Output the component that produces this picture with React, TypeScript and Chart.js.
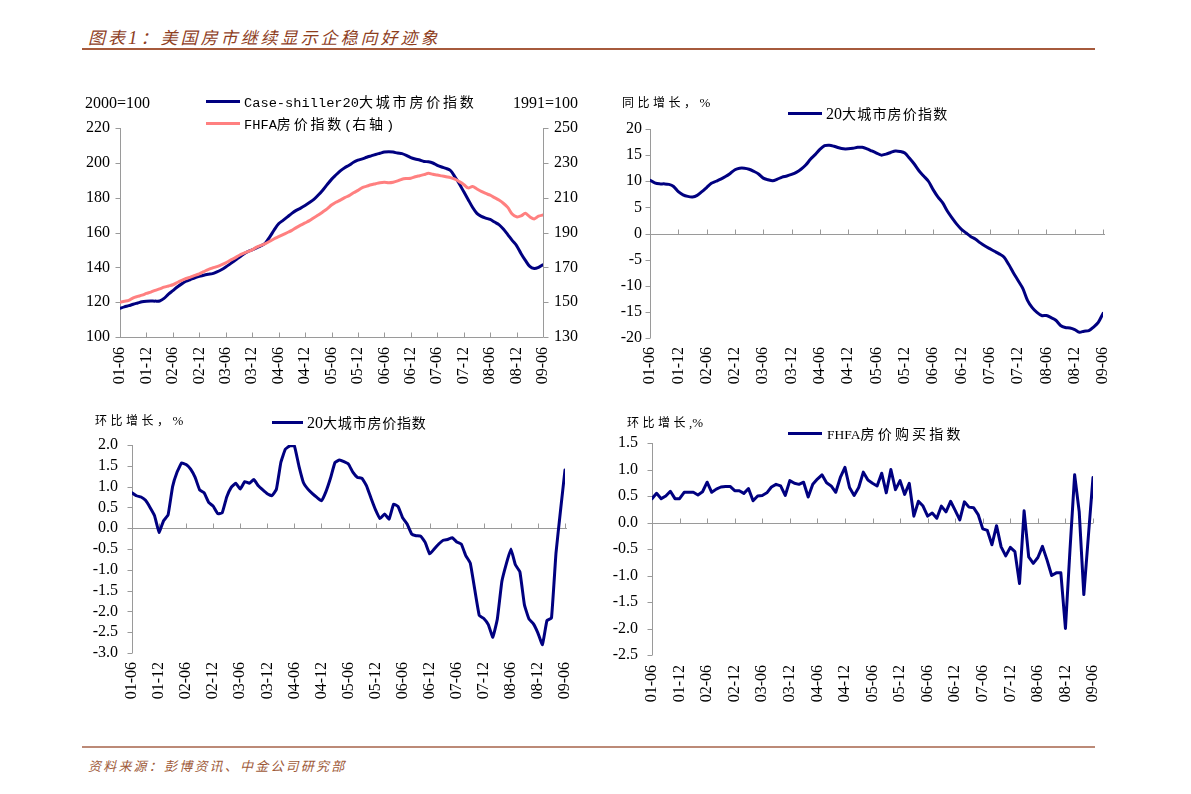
import React, { useEffect, useRef } from 'react';
import { Chart, registerables } from 'chart.js';

Chart.register(...registerables);

// ---------------- data ----------------
const tickLabels = ['01-06', '01-12', '02-06', '02-12', '03-06', '03-12', '04-06', '04-12', '05-06', '05-12', '06-06', '06-12', '07-06', '07-12', '08-06', '08-12', '09-06'];

// Case-Shiller 20-city index, 2000=100 (monthly, 2001-06 .. 2009-06)
const caseShiller20 = [
  116.5, 117.3, 118.0, 118.8, 119.5, 120.2, 120.5, 120.6, 120.6, 120.7,
  122.2, 124.6, 126.6, 128.7, 130.5, 132.0, 133.0, 134.0, 134.8, 135.5,
  136.0, 136.4, 137.4, 138.6, 140.2, 142.0, 143.8, 145.6, 147.5, 149.0,
  150.0, 151.2, 152.4, 154.0, 157.5, 161.5, 165.0, 167.0, 169.0, 171.0,
  172.7, 174.0, 175.5, 177.2, 179.0, 181.5, 184.3, 187.5, 190.5, 193.0,
  195.4, 197.2, 198.6, 200.3, 201.5, 202.3, 203.2, 204.0, 204.8, 205.5,
  206.2, 206.4, 206.2, 205.6, 205.3, 204.3, 203.0, 202.2, 201.6, 200.8,
  200.6, 199.9, 198.6, 197.6, 196.8, 195.6, 192.0, 188.0, 183.5, 179.0,
  174.5, 171.0, 169.3, 168.3, 167.5, 166.0, 164.5, 162.0, 158.8, 155.5,
  152.5, 148.0, 144.0, 140.5, 139.3, 140.0, 141.5,
];

// FHFA house price index, 1991=100 (right axis)
const fhfaIndex = [
  150.0, 150.5, 151.0, 152.5, 153.3, 154.0, 155.0, 155.8, 156.8, 157.6,
  158.6, 159.3, 160.0, 161.3, 162.5, 163.6, 164.4, 165.4, 166.3, 167.5,
  168.7, 169.6, 170.4, 171.4, 172.6, 174.0, 175.3, 176.8, 178.0, 179.0,
  180.0, 181.6, 182.6, 183.6, 185.0, 186.4, 187.6, 188.8, 190.0, 191.2,
  192.8, 194.2, 195.5, 196.8, 198.5, 200.0, 201.8, 203.6, 205.8, 207.4,
  208.6, 210.0, 211.2, 212.8, 214.2, 215.8, 216.6, 217.4, 218.0, 218.6,
  218.8, 218.6, 218.9, 219.6, 220.6, 221.0, 221.2, 222.0, 222.6, 223.2,
  224.0, 223.4, 223.0, 222.5, 222.0, 221.5, 220.6, 219.2, 217.6, 215.6,
  216.4, 215.0, 213.6, 212.4, 211.4, 210.0, 208.6, 206.8, 204.4, 200.6,
  199.0, 199.5, 201.0, 199.0, 197.8, 199.4, 200.0,
];

// Case-Shiller 20-city, year-on-year %
const cs20YoY = [
  10.2, 9.7, 9.5, 9.5, 9.4, 9.0, 8.0, 7.4, 7.1, 7.0,
  7.3, 8.0, 8.8, 9.6, 10.0, 10.4, 10.9, 11.5, 12.2, 12.5,
  12.5, 12.3, 11.9, 11.4, 10.6, 10.3, 10.1, 10.4, 10.8, 11.0,
  11.3, 11.7, 12.3, 13.1, 14.2, 15.1, 16.1, 16.8, 16.9, 16.7,
  16.4, 16.2, 16.2, 16.3, 16.5, 16.5, 16.2, 15.8, 15.4, 15.0,
  15.2, 15.5, 15.8, 15.7, 15.4, 14.4, 13.3, 12.0, 11.0, 10.0,
  8.4, 7.0, 5.9, 4.3, 3.0, 1.8, 0.8, 0.1, -0.6, -1.1,
  -1.8, -2.4, -2.9, -3.4, -3.9, -4.5, -5.9, -7.5, -9.0, -10.5,
  -12.8, -14.2, -15.1, -15.7, -15.7, -16.1, -16.6, -17.6, -18.0, -18.1,
  -18.4, -18.9, -18.7, -18.6, -17.9, -17.0, -15.3,
];

// Case-Shiller 20-city, month-on-month %
const cs20MoM = [
  0.85, 0.78, 0.75, 0.67, 0.50, 0.30, -0.10, 0.18, 0.32, 1.00,
  1.35, 1.57, 1.53, 1.42, 1.22, 0.92, 0.85, 0.62, 0.53, 0.35,
  0.37, 0.75, 0.98, 1.08, 0.94, 1.12, 1.08, 1.17, 1.02, 0.92,
  0.83, 0.78, 0.93, 1.58, 1.90, 1.98, 1.98, 1.50, 1.10, 0.94,
  0.83, 0.74, 0.66, 0.88, 1.20, 1.58, 1.64, 1.60, 1.54, 1.34,
  1.22, 1.20, 1.02, 0.72, 0.44, 0.23, 0.34, 0.22, 0.58, 0.52,
  0.25, 0.10, -0.14, -0.18, -0.19, -0.34, -0.62, -0.50, -0.38, -0.29,
  -0.27, -0.23, -0.33, -0.38, -0.66, -0.84, -1.48, -2.10, -2.17, -2.32,
  -2.62, -2.18, -1.28, -0.85, -0.50, -0.88, -1.05, -1.84, -2.18, -2.30,
  -2.52, -2.80, -2.22, -2.16, -0.60, 0.42, 1.40,
];

// FHFA purchase-only index, month-on-month %
const fhfaMoM = [
  0.45, 0.55, 0.45, 0.50, 0.59, 0.45, 0.45, 0.57, 0.57, 0.57,
  0.52, 0.58, 0.76, 0.57, 0.63, 0.67, 0.68, 0.68, 0.60, 0.60,
  0.55, 0.64, 0.41, 0.50, 0.51, 0.56, 0.67, 0.72, 0.69, 0.51,
  0.79, 0.74, 0.72, 0.76, 0.48, 0.72, 0.82, 0.90, 0.75, 0.69,
  0.57, 0.85, 1.04, 0.66, 0.51, 0.66, 0.95, 0.80, 0.74, 0.69,
  0.93, 0.56, 1.00, 0.62, 0.79, 0.53, 0.74, 0.12, 0.40, 0.31,
  0.12, 0.18, 0.08, 0.31, 0.20, 0.40, 0.23, 0.05, 0.39, 0.29,
  0.28, 0.15, -0.12, -0.15, -0.42, -0.06, -0.46, -0.63, -0.47, -0.55,
  -1.15, 0.22, -0.65, -0.77, -0.66, -0.45, -0.71, -1.00, -0.95, -0.95,
  -2.00, -0.50, 0.90, 0.20, -1.36, -0.25, 0.85,
];
const fhfaMoMLatest = 0.48; // latest revised reading for 09-06

// ---------------- styles ----------------
const NAVY = '#000080';
const PINK = '#FF8080';
const AXIS = '#9a9a9a';
const SERIF = "'Liberation Serif', 'Times New Roman', serif";
const CJK = "'Noto Sans CJK SC', 'Noto Sans CJK JP', sans-serif";
const MONO = "'Liberation Mono', 'DejaVu Sans Mono', monospace";
const tickFont = { family: SERIF, size: 16 };
const TOP_PAD = 26;

const excelAxes = {
  id: 'excelAxes',
  beforeDatasetsDraw(chart: any, _args: any, opts: any) {
    const { ctx, chartArea } = chart;
    const { left, right, top, bottom } = chartArea;
    const px = (v: number) => Math.round(v) + 0.5;
    ctx.save();
    ctx.strokeStyle = AXIS;
    ctx.lineWidth = 1;
    ctx.beginPath();
    for (const id of opts.yAxes) {
      const s = chart.scales[id];
      const isLeft = s.position === 'left';
      const ax = px(isLeft ? left : right);
      ctx.moveTo(ax, top);
      ctx.lineTo(ax, bottom);
      for (const t of s.ticks) {
        const y = px(s.getPixelForValue(t.value));
        ctx.moveTo(isLeft ? ax - 5 : ax + 5, y);
        ctx.lineTo(ax, y);
      }
    }
    const ys = chart.scales.y;
    const by = px(ys.getPixelForValue(opts.baseValue));
    ctx.moveTo(left, by);
    ctx.lineTo(right + (opts.extend || 0), by);
    const xs = chart.scales.x;
    for (const t of xs.ticks) {
      const x = px(xs.getPixelForValue(t.value));
      ctx.moveTo(x, by);
      ctx.lineTo(x, by - 5);
    }
    ctx.stroke();
    ctx.restore();
  },
};

function xScale(pad: number) {
  return {
    type: 'linear',
    min: 0,
    max: 96,
    grid: { display: false, drawTicks: false },
    border: { display: false },
    ticks: {
      stepSize: 6,
      maxTicksLimit: 30,
      autoSkip: false,
      minRotation: 90,
      maxRotation: 90,
      padding: pad,
      font: tickFont,
      color: '#000',
      callback: (v: number) => tickLabels[Math.round(v / 6)] ?? '',
    },
    afterFit: (s: any) => {
      s.height = 60;
    },
  };
}

function yScale(position: string, min: number, max: number, step: number, pad: number, width: number, decimals: number) {
  return {
    type: 'linear',
    position,
    min,
    max,
    grid: { display: false, drawTicks: false },
    border: { display: false },
    ticks: {
      stepSize: step,
      maxTicksLimit: 30,
      autoSkip: false,
      padding: pad,
      font: tickFont,
      color: '#000',
      callback: (v: number) => (Math.abs(v) < 1e-9 ? 0 : v).toFixed(decimals),
    },
    afterFit: (s: any) => {
      s.width = width;
    },
  };
}

const series = (vals: number[]) => vals.map((y, i) => ({ x: i, y }));

const lineDs = (data: any[], color: string, tension: number, extra: any = {}) => ({
  data,
  borderColor: color,
  backgroundColor: color,
  borderWidth: 3,
  pointRadius: 0,
  tension,
  fill: false,
  borderJoinStyle: 'round',
  borderCapStyle: 'round',
  ...extra,
});

const baseOptions = (scales: any, axesOpts: any, padRight: number) => ({
  animation: false,
  responsive: false,
  maintainAspectRatio: false,
  devicePixelRatio: 1,
  events: [],
  layout: { padding: { top: TOP_PAD, left: 0, right: padRight, bottom: 0 } },
  plugins: { legend: { display: false }, tooltip: { enabled: false }, excelAxes: axesOpts },
  scales,
});

const panel1 = () => ({
  type: 'line',
  data: {
    datasets: [
      lineDs(series(caseShiller20), NAVY, 0.3, { yAxisID: 'y', order: 1 }),
      lineDs(series(fhfaIndex), PINK, 0.3, { yAxisID: 'y1', order: 0 }),
    ],
  },
  options: baseOptions(
    {
      x: xScale(10),
      y: yScale('left', 100, 220, 20, 10, 60, 0),
      y1: yScale('right', 130, 250, 20, 11, 50, 0),
    },
    { yAxes: ['y', 'y1'], baseValue: 100 },
    0,
  ),
  plugins: [excelAxes],
});

const panel2 = () => ({
  type: 'line',
  data: { datasets: [lineDs(series(cs20YoY), NAVY, 0.3)] },
  options: baseOptions(
    { x: xScale(9), y: yScale('left', -20, 20, 5, 8, 50, 0) },
    { yAxes: ['y'], baseValue: 0, extend: 2 },
    30,
  ),
  plugins: [excelAxes],
});

const panel3 = () => ({
  type: 'line',
  data: { datasets: [lineDs(series(cs20MoM), NAVY, 0.1)] },
  options: baseOptions(
    { x: xScale(9), y: yScale('left', -3, 2, 0.5, 14, 60, 1) },
    { yAxes: ['y'], baseValue: 0, extend: 2 },
    30,
  ),
  plugins: [excelAxes],
});

const panel4 = () => ({
  type: 'line',
  data: {
    datasets: [
      lineDs([...series(fhfaMoM), { x: fhfaMoM.length - 1, y: fhfaMoMLatest }], NAVY, 0),
    ],
  },
  options: baseOptions(
    { x: xScale(10), y: yScale('left', -2.5, 1.5, 0.5, 14, 60, 1) },
    { yAxes: ['y'], baseValue: 0, extend: 0 },
    30,
  ),
  plugins: [excelAxes],
});

// ---------------- components ----------------
function ChartCanvas({ left, top, width, height, build }: any) {
  const ref = useRef<HTMLCanvasElement>(null);
  useEffect(() => {
    const chart = new Chart(ref.current as HTMLCanvasElement, build());
    return () => chart.destroy();
  }, []);
  return (
    <canvas
      ref={ref}
      width={width}
      height={height}
      style={{ position: 'absolute', left, top, width, height }}
    />
  );
}

const isCJK = (ch: string) => /[\u2E80-\u9FFF\uFF00-\uFFEF\u3000-\u303F]/.test(ch);

function Mixed({ text, latin, cjk }: any) {
  const runs: [string, boolean][] = [];
  let cur = '';
  let curC: boolean | null = null;
  for (const ch of text) {
    const c = isCJK(ch);
    if (curC === null || c === curC) {
      cur += ch;
      curC = c;
    } else {
      runs.push([cur, curC]);
      cur = ch;
      curC = c;
    }
  }
  if (cur) runs.push([cur, !!curC]);
  return (
    <>
      {runs.map(([t, c], i) => (
        <span key={i} style={c ? cjk : latin}>
          {t}
        </span>
      ))}
    </>
  );
}

function Label({ x, y, children, style }: any) {
  return (
    <div
      style={{
        position: 'absolute',
        left: x,
        top: y - 12,
        height: 24,
        lineHeight: '24px',
        whiteSpace: 'nowrap',
        color: '#000',
        ...style,
      }}
    >
      {children}
    </div>
  );
}

function Swatch({ x, y, w, color }: any) {
  return <div style={{ position: 'absolute', left: x, top: y - 1.5, width: w, height: 3, background: color }} />;
}

const unitLatin = { fontFamily: SERIF, fontSize: 13 };
const unitCjk = { fontFamily: CJK, fontSize: 12, letterSpacing: '3.5px' };
const legLatin = { fontFamily: SERIF, fontSize: 16 };

// chart-area targets: panel1 top 128 / bottom 337, panel2 129 / 338, panel3 445 / 653, panel4 443 / 655
export default function App() {
  return (
    <div
      style={{
        position: 'absolute',
        left: 0,
        top: 0,
        width: 1191,
        height: 794,
        background: '#fff',
        overflow: 'hidden',
      }}
    >
      {/* title */}
      <Label x={88} y={37}>
        <span style={{ color: '#8E3E1E', fontStyle: 'italic' }}>
          <Mixed
            text="图表1：美国房市继续显示企稳向好迹象"
            latin={{ fontFamily: SERIF, fontSize: 19, letterSpacing: '3px' }}
            cjk={{ fontFamily: CJK, fontSize: 17, letterSpacing: '3px' }}
          />
        </span>
      </Label>
      <div style={{ position: 'absolute', left: 82, top: 48, width: 1013, height: 2, background: '#A65A3C' }} />

      {/* panel 1 */}
      <ChartCanvas left={60} top={128 - TOP_PAD} width={533} height={337 - 128 + TOP_PAD + 60} build={panel1} />
      <Label x={85} y={103} style={{ fontFamily: SERIF, fontSize: 16 }}>2000=100</Label>
      <Label x={513} y={103} style={{ fontFamily: SERIF, fontSize: 16 }}>1991=100</Label>
      <Swatch x={206} y={101} w={34} color={NAVY} />
      <Label x={244} y={101}>
        <Mixed
          text="Case-shiller20大城市房价指数"
          latin={{ fontFamily: MONO, fontSize: 13.7 }}
          cjk={{ fontFamily: CJK, fontSize: 14, letterSpacing: '2.8px' }}
        />
      </Label>
      <Swatch x={206} y={123} w={34} color={PINK} />
      <Label x={244} y={123}>
        <Mixed
          text="FHFA房价指数(右轴)"
          latin={{ fontFamily: MONO, fontSize: 13.7 }}
          cjk={{ fontFamily: CJK, fontSize: 14, letterSpacing: '2.8px' }}
        />
      </Label>

      {/* panel 2 */}
      <ChartCanvas left={600} top={129 - TOP_PAD} width={533} height={338 - 129 + TOP_PAD + 60} build={panel2} />
      <Label x={622} y={102}>
        <Mixed text="同比增长，%" latin={unitLatin} cjk={unitCjk} />
      </Label>
      <Swatch x={788} y={113} w={34} color={NAVY} />
      <Label x={826} y={113}>
        <Mixed text="20大城市房价指数" latin={legLatin} cjk={{ fontFamily: CJK, fontSize: 14, letterSpacing: '1.2px' }} />
      </Label>

      {/* panel 3 */}
      <ChartCanvas left={72} top={445 - TOP_PAD} width={523} height={653 - 445 + TOP_PAD + 60} build={panel3} />
      <Label x={95} y={420}>
        <Mixed text="环比增长，%" latin={unitLatin} cjk={unitCjk} />
      </Label>
      <Swatch x={272} y={422} w={31} color={NAVY} />
      <Label x={307} y={422}>
        <Mixed text="20大城市房价指数" latin={legLatin} cjk={{ fontFamily: CJK, fontSize: 14, letterSpacing: '0.8px' }} />
      </Label>

      {/* panel 4 */}
      <ChartCanvas left={592} top={443 - TOP_PAD} width={531} height={655 - 443 + TOP_PAD + 60} build={panel4} />
      <Label x={627} y={422}>
        <Mixed text="环比增长,%" latin={unitLatin} cjk={unitCjk} />
      </Label>
      <Swatch x={788} y={433} w={34} color={NAVY} />
      <Label x={827} y={433}>
        <Mixed
          text="FHFA房价购买指数"
          latin={{ fontFamily: SERIF, fontSize: 13.5 }}
          cjk={{ fontFamily: CJK, fontSize: 14, letterSpacing: '3.2px' }}
        />
      </Label>

      {/* footer */}
      <div style={{ position: 'absolute', left: 82, top: 746, width: 1013, height: 2, background: '#BC8A77' }} />
      <Label x={88} y={766} style={{ color: '#9E5A38', fontStyle: 'italic', fontFamily: CJK, fontSize: 13, letterSpacing: '2.2px' }}>
        资料来源：彭博资讯、中金公司研究部
      </Label>
    </div>
  );
}
